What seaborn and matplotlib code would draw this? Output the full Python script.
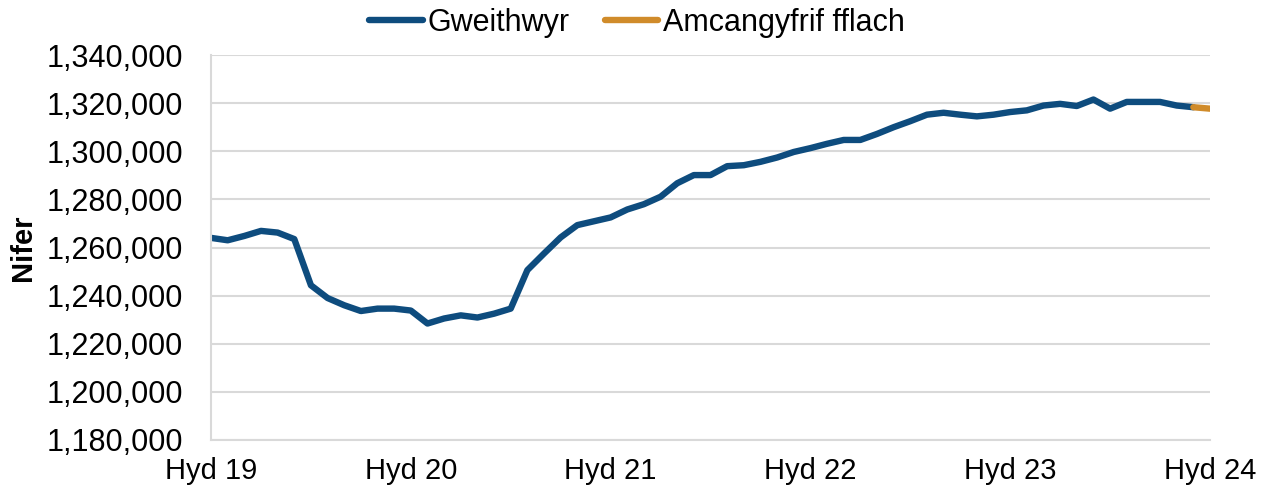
import numpy as np
import pandas as pd
import seaborn as sns
import matplotlib.pyplot as plt
from matplotlib.ticker import FuncFormatter

# Monthly values, Oct 2019 - Oct 2024
gweithwyr = [
    1264000, 1263000, 1264800, 1266900, 1266200, 1263500, 1244300, 1239000,
    1236000, 1233600, 1234600, 1234600, 1233800, 1228400, 1230500, 1231800,
    1230900, 1232500, 1234600, 1250600, 1257500, 1264200, 1269300, 1270900,
    1272500, 1275800, 1278000, 1281100, 1286700, 1290100, 1290100, 1293800,
    1294200, 1295600, 1297400, 1299700, 1301300, 1303100, 1304700, 1304700,
    1307200, 1310000, 1312500, 1315200, 1316000, 1315200, 1314500, 1315200,
    1316300, 1317000, 1319000, 1319700, 1318800, 1321500, 1317700, 1320500,
    1320500, 1320500, 1319000, 1318300,
]
amcangyfrif_fflach = [1318300, 1317700]  # last two months
tick_labels = ["Hyd 19", "Hyd 20", "Hyd 21", "Hyd 22", "Hyd 23", "Hyd 24"]

n = len(gweithwyr) + 1
df = pd.DataFrame({
    "mis": np.arange(n),
    "Gweithwyr": gweithwyr + [np.nan],
    "Amcangyfrif fflach": [np.nan] * (n - 2) + amcangyfrif_fflach,
})
long = df.melt(id_vars="mis", var_name="cyfres", value_name="nifer").dropna()

sns.set_style("white")
plt.rcParams["font.family"] = ["Liberation Sans", "DejaVu Sans"]
plt.rcParams["text.color"] = "black"

fig = plt.figure(figsize=(12.69, 4.92), dpi=100)
ax = fig.add_axes([0.1663, 0.1057, 0.7872, 0.7825])

sns.lineplot(data=long, x="mis", y="nifer", hue="cyfres",
             palette={"Gweithwyr": "#0e4c7e", "Amcangyfrif fflach": "#d08b2a"},
             linewidth=4.6, ax=ax, solid_capstyle="round")

ax.set_xlim(0, n - 1)
ax.set_ylim(1180000, 1340000)
ax.set_yticks(np.arange(1180000, 1340001, 20000))
ax.yaxis.set_major_formatter(FuncFormatter(lambda v, p: f"{int(v):,}"))
ax.set_xticks(np.arange(0, n, 12))
ax.set_xticklabels(tick_labels)

ax.grid(axis="y", color="#d9d9d9", linewidth=1.5)
ax.set_axisbelow(True)
for side in ["top", "right"]:
    ax.spines[side].set_visible(False)
for side in ["left", "bottom"]:
    ax.spines[side].set_color("#d9d9d9")
    ax.spines[side].set_linewidth(1.5)

ax.tick_params(axis="x", length=8, width=1.5, color="#d9d9d9", labelcolor="black",
               labelsize=21, pad=4)
ax.tick_params(axis="y", length=0, labelsize=22, labelcolor="black", pad=20)
ax.set_xlabel("")
ax.set_ylabel("Nifer", fontsize=21, fontweight="bold", labelpad=7, color="black")

ax.legend(loc="center", bbox_to_anchor=(637 / 1269, 1 - 23 / 492),
          bbox_transform=fig.transFigure, ncol=2, frameon=False,
          fontsize=22, handlelength=1.75, handletextpad=0.15, columnspacing=1.15)

fig.savefig("out.png", dpi=100)
